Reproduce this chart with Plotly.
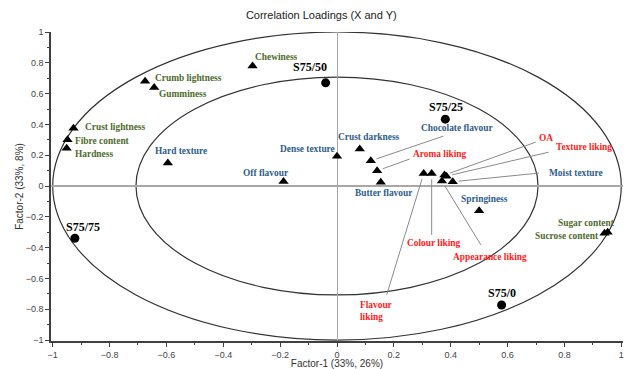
import numpy as np
import plotly.graph_objects as go

# ---- data ----
var_names = ["Chewiness", "Crumb lightness", "Gumminess", "Crust lightness", "Fibre content",
             "Hardness", "Hard texture", "Off flavour", "Dense texture", "Crust darkness",
             "Chocolate flavour", "Aroma liking", "Butter flavour", "Flavour liking",
             "Colour liking", "OA", "Texture liking", "Appearance liking", "Moist texture",
             "Springiness", "Sugar content", "Sucrose content"]
var_x = [-0.297, -0.675, -0.643, -0.927, -0.948, -0.951, -0.595, -0.188, 0.000, 0.080,
         0.119, 0.141, 0.154, 0.305, 0.333, 0.378, 0.385, 0.369, 0.407, 0.500, 0.952, 0.941]
var_y = [0.780, 0.680, 0.640, 0.375, 0.300, 0.246, 0.150, 0.030, 0.194, 0.240,
         0.164, 0.099, 0.024, 0.082, 0.082, 0.071, 0.064, 0.032, 0.028, -0.160, -0.300, -0.306]
var_group = ["g", "g", "g", "g", "g", "g", "b", "b", "b", "b",
             "b", "r", "b", "r", "r", "r", "r", "r", "b", "b", "g", "g"]
# label anchor positions (left edge, vertical middle)
lab_x = [-0.294, -0.647, -0.633, -0.895, -0.927, -0.927, -0.647, -0.336, -0.206, -0.003,
         0.290, 0.262, 0.056, 0.073, 0.238, 0.703, 0.762, 0.402, 0.738, 0.430, 0.769, 0.689]
lab_y = [0.835, 0.699, 0.595, 0.382, 0.291, 0.207, 0.227, 0.084, 0.239, 0.317,
         0.375, 0.207, -0.045, -0.812, -0.369, 0.311, 0.252, -0.460, 0.084, -0.084, -0.239, -0.324]
# leader line end points (None = no leader)
lead_x = [None, None, None, None, None, None, None, None, None, None,
          0.374, 0.255, None, 0.175, 0.333, 0.699, 0.745, 0.506, 0.710, None, None, None]
lead_y = [None, None, None, None, None, None, None, None, None, None,
          0.324, 0.175, None, -0.705, -0.317, 0.285, 0.220, -0.382, 0.084, None, None, None]

sample_names = ["S75/50", "S75/25", "S75/75", "S75/0"]
sample_x = [-0.040, 0.381, -0.922, 0.579]
sample_y = [0.670, 0.434, -0.339, -0.772]
sample_lab_x = [-0.094, 0.385, -0.892, 0.580]
sample_lab_y = [0.770, 0.511, -0.265, -0.693]

colors = {"g": "#4f6b2c", "b": "#2e5d8c", "r": "#ff1a1a"}

fig = go.Figure()

# correlation circles (r = 1 and r = sqrt(0.5))
for r in [1.0, np.sqrt(0.5)]:
    fig.add_shape(type="circle", xref="x", yref="y", x0=-r, x1=r, y0=-r, y1=r,
                  line=dict(color="#333333", width=1.2), layer="below")

# leader lines
px_per_x, px_per_y = 286.0, 154.5
for i in range(len(var_names)):
    if lead_x[i] is None:
        continue
    dx = (lead_x[i] - var_x[i]) * px_per_x
    dy = (lead_y[i] - var_y[i]) * px_per_y
    d = np.hypot(dx, dy)
    f = 6.0 / d
    sx = var_x[i] + (lead_x[i] - var_x[i]) * f
    sy = var_y[i] + (lead_y[i] - var_y[i]) * f
    fig.add_trace(go.Scatter(x=[sx, lead_x[i]], y=[sy, lead_y[i]], mode="lines",
                             line=dict(color="#8a8a8a", width=1), hoverinfo="skip",
                             showlegend=False))

fig.add_trace(go.Scatter(x=var_x, y=var_y, mode="markers",
                         marker=dict(symbol="triangle-up", size=9, color="black"),
                         showlegend=False))
fig.add_trace(go.Scatter(x=sample_x, y=sample_y, mode="markers",
                         marker=dict(symbol="circle", size=9, color="black"),
                         showlegend=False))

for i, n in enumerate(var_names):
    txt = "Flavour<br>liking" if n == "Flavour liking" else n
    fig.add_annotation(x=lab_x[i], y=lab_y[i], text="<b>" + txt + "</b>", showarrow=False,
                       xanchor="left", yanchor="middle", align="left",
                       font=dict(family="Liberation Serif", size=9.4, color=colors[var_group[i]]))

for i, n in enumerate(sample_names):
    fig.add_annotation(x=sample_lab_x[i], y=sample_lab_y[i], text="<b>" + n + "</b>",
                       showarrow=False, xanchor="center", yanchor="middle",
                       font=dict(family="Liberation Serif", size=12, color="black"))

axis_common = dict(
    showgrid=False, zeroline=True, zerolinecolor="#a8a8a8",
    showline=True, linecolor="#404040", linewidth=1.5,
    ticks="outside", ticklen=4, tickcolor="#404040", tickwidth=1,
    dtick=0.2, tick0=0, automargin=False,
    minor=dict(dtick=0.1, ticks="outside", ticklen=2, tickcolor="#404040"),
    tickfont=dict(family="Arial", size=9, color="#444444"),
)
fig.update_xaxes(range=[-1.006, 1.006], zerolinewidth=1,
                 title=dict(text="Factor-1 (33%, 26%)", standoff=2,
                            font=dict(family="Arial", size=10, color="#333333")),
                 **axis_common)
fig.update_yaxes(range=[-1.006, 1.0], zerolinewidth=2,
                 title=dict(text="Factor-2 (33%, 8%)", standoff=0,
                            font=dict(family="Arial", size=10, color="#333333")),
                 **axis_common)

fig.update_layout(
    width=630, height=369,
    margin=dict(l=51, r=7, t=32, b=28, autoexpand=False),
    paper_bgcolor="white", plot_bgcolor="white",
    title=dict(text="Correlation Loadings (X and Y)", x=0.51, xanchor="center", y=0.96,
               yanchor="middle", font=dict(family="Arial", size=11, color="#222222")),
    showlegend=False,
)

fig.write_html("out.html", config={"displayModeBar": False},
               post_script="document.body.style.margin='0';document.body.style.overflow='hidden';")
